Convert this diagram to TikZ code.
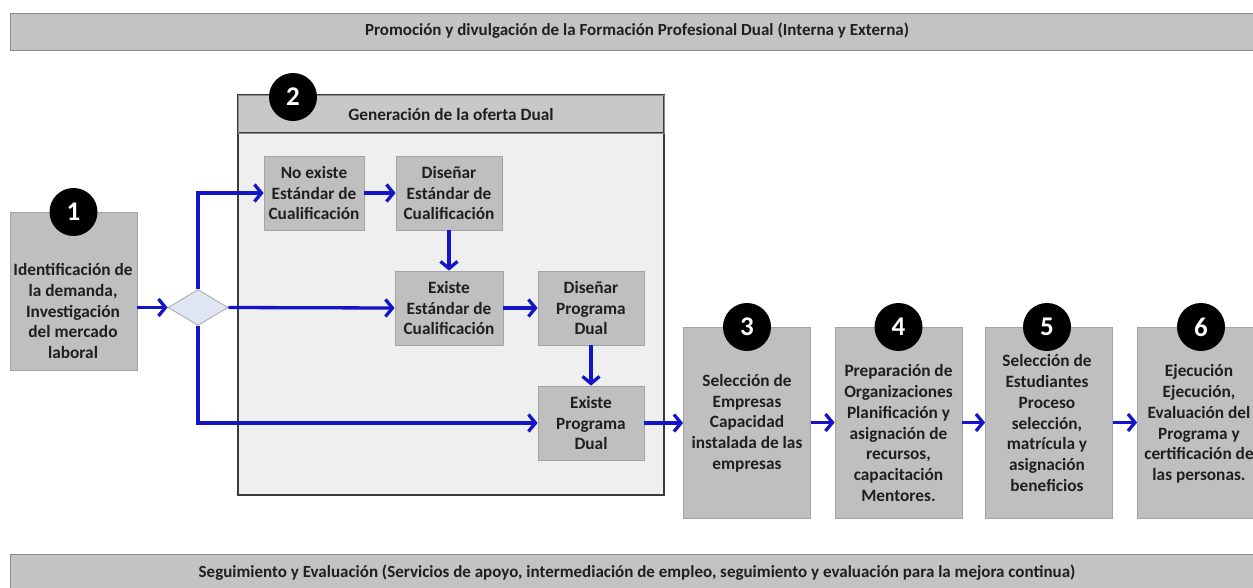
\documentclass[tikz,border=0pt]{standalone}
\usepackage{fontspec}
\setmainfont{Carlito}
\usetikzlibrary{shapes.geometric,arrows.meta}
\definecolor{boxgray}{HTML}{BFBFBF}
\definecolor{boxline}{HTML}{A3A3A3}
\definecolor{bannergray}{HTML}{C3C3C3}
\definecolor{bannerline}{HTML}{8A8A8A}
\definecolor{contfill}{HTML}{EFEFEF}
\definecolor{contline}{HTML}{3A3A3A}
\definecolor{headfill}{HTML}{C8C8C8}
\definecolor{arrblue}{HTML}{1414C8}
\definecolor{diafill}{HTML}{DFE6F1}
\definecolor{dialine}{HTML}{A8A8A8}
\begin{document}
\begin{tikzpicture}[x=1pt,y=-1pt,
  font=\bfseries\fontsize{17.3}{20.7}\selectfont,
  banner/.style={draw=bannerline, fill=bannergray, line width=1pt, inner sep=0, minimum height=37pt, minimum width=1255pt},
  pbox/.style={draw=boxline, fill=boxgray, line width=0.8pt, inner sep=0},
  txt/.style={align=center, inner sep=0, text=black!88},
  num/.style={circle, fill=black, text=white, inner sep=0, minimum size=48pt, font=\bfseries\fontsize{27}{27}\selectfont},
  arr/.style={draw=arrblue, line width=3.3pt, -{Straight Barb[length=7pt,width=17pt]}},
]
\useasboundingbox (0,0) rectangle (1253,587);
\clip (0,0) rectangle (1253,587);
\fill[white] (0,0) rectangle (1253,587);

% banners
\node[banner] (top) at (637.5,31.5) {};
\node[txt, font=\bfseries\fontsize{17}{20}\selectfont] (toptxt) at (637,31) {Promoción y divulgación de la Formación Profesional Dual (Interna y Externa)};
\node[banner] (bot) at (637.5,573) {};
\node[txt, font=\bfseries\fontsize{17}{20}\selectfont] (bottxt) at (637,573) {Seguimiento y Evaluación (Servicios de apoyo, intermediación de empleo, seguimiento y evaluación para la mejora continua)};

% container 2
\node[draw=contline, fill=contfill, line width=1.5pt, inner sep=0, minimum width=426pt, minimum height=362pt] (cont) at (451,314) {};
\node[draw=contline, fill=headfill, line width=1.3pt, inner sep=0, minimum width=426pt, minimum height=38pt] (head) at (451,114) {};
\node[draw=bannerline, line width=0.6pt, inner sep=0, minimum width=426pt, minimum height=38pt] (headtop) at (451,114) {};
\node[txt] (headtxt) at (451,114) {Generación de la oferta Dual};
\node[num] (n2) at (293,97) {2};

% box 1
\node[pbox, minimum width=127pt, minimum height=158pt] (b1) at (73.5,291) {};
\node[txt] (t1) at (73,311) {Identificación de\\la demanda,\\Investigación\\del mercado\\laboral};
\node[num] (n1) at (73.5,212) {1};

% diamond
\node[diamond, draw=dialine, fill=diafill, line width=0.8pt, inner sep=0, aspect=1.667, minimum width=60pt, minimum height=36pt] (dia) at (198,307.5) {};

% inner boxes
\node[pbox, minimum width=100pt, minimum height=74pt] (noex) at (314,193) {};
\node[txt] (tnoex) at (314,193) {No existe\\Estándar de\\Cualificación};
\node[pbox, minimum width=106pt, minimum height=74pt] (disest) at (449,193) {};
\node[txt] (tdisest) at (449,193) {Diseñar\\Estándar de\\Cualificación};
\node[pbox, minimum width=108pt, minimum height=74pt] (exest) at (449,308) {};
\node[txt] (texest) at (449,308) {Existe\\Estándar de\\Cualificación};
\node[pbox, minimum width=106pt, minimum height=74pt] (disprog) at (591,308) {};
\node[txt] (tdisprog) at (591,308) {Diseñar\\Programa\\Dual};
\node[pbox, minimum width=106pt, minimum height=74pt] (exprog) at (591,423) {};
\node[txt] (texprog) at (591,423) {Existe\\Programa\\Dual};

% steps 3-6
\node[pbox, minimum width=127pt, minimum height=191pt] (b3) at (747,422.5) {};
\node[txt] (t3) at (747,423) {Selección de\\Empresas\\Capacidad\\instalada de las\\empresas};
\node[num] (n3) at (747,327) {3};
\node[pbox, minimum width=127pt, minimum height=191pt] (b4) at (898.5,422.5) {};
\node[txt] (t4) at (898.5,433) {Preparación de\\Organizaciones\\Planificación y\\asignación de\\recursos,\\capacitación\\Mentores.};
\node[num] (n4) at (898.5,327) {4};
\node[pbox, minimum width=127pt, minimum height=191pt] (b5) at (1049,422.5) {};
\node[txt] (t5) at (1047,423) {Selección de\\Estudiantes\\Proceso\\selección,\\matrícula y\\asignación\\beneficios};
\node[num] (n5) at (1047,327) {5};
\node[pbox, minimum width=127pt, minimum height=191pt] (b6) at (1201,422.5) {};
\node[txt] (t6) at (1199,424) {Ejecución\\Ejecución,\\Evaluación del\\Programa y\\certificación de\\las personas.};
\node[num] (n6) at (1201,327) {6};

% connectors
\draw[arr] (b1.east |- dia.west) -- (dia.west);
\draw[arr] (dia.north) |- (noex.west);
\draw[arr] (dia.east) -- (exest.west);
\draw[arr] (dia.south) |- (exprog.west);
\draw[arr] (noex.east) -- (disest.west);
\draw[arr] (disest.south) -- (exest.north);
\draw[arr] (exest.east) -- (disprog.west);
\draw[arr] (disprog.south) -- (exprog.north);
\draw[arr] (exprog.east) -- (b3.west |- exprog.east);
\draw[arr] (b3.east) -- (b4.west);
\draw[arr] (b4.east) -- (b5.west);
\draw[arr] (b5.east) -- (b6.west);
\end{tikzpicture}
\end{document}
